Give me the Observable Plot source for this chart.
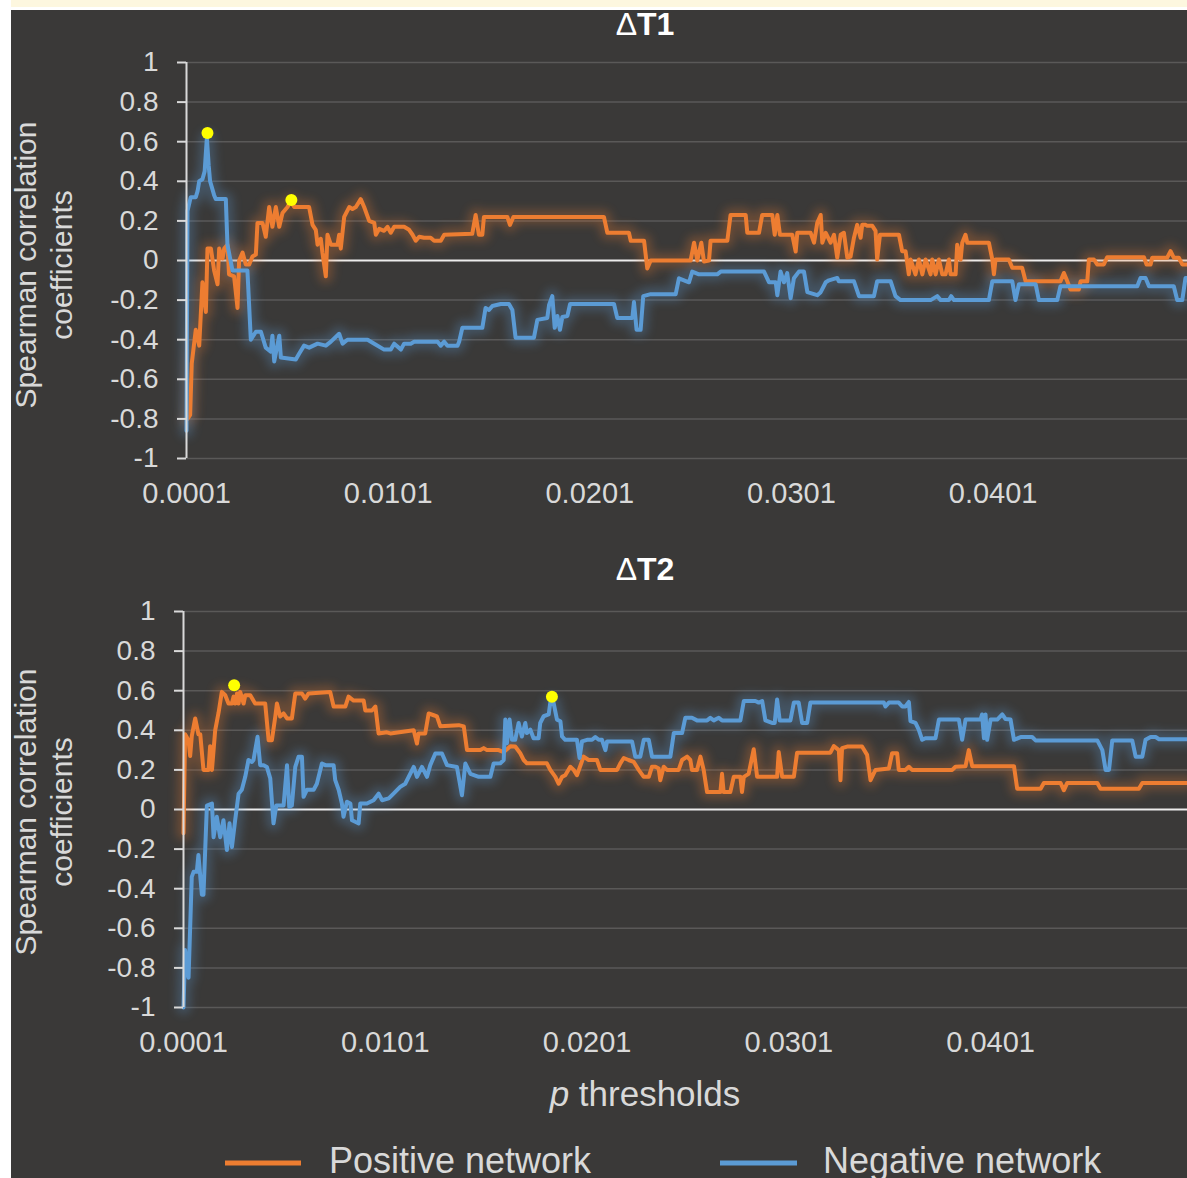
<!DOCTYPE html>
<html><head><meta charset="utf-8">
<script src="https://cdn.jsdelivr.net/npm/d3@7"></script>
<script src="https://cdn.jsdelivr.net/npm/@observablehq/plot@0.6"></script>
<style>
html,body{margin:0;padding:0;background:#fff;}
#page{position:relative;width:1187px;height:1178px;overflow:hidden;background:#fff;font-family:"Liberation Sans",Arial,sans-serif;}
#dark{position:absolute;left:11px;top:10px;width:1176px;height:1168px;background:#3a3938;}
.panel{position:absolute;left:0;}
#overlay{position:absolute;left:0;top:0;}
#strip{position:absolute;left:0;top:0;width:1187px;height:7px;background:#fdf7df;}
#wband{position:absolute;left:0;top:7px;width:1187px;height:3px;background:#fff;}
#lband{position:absolute;left:0;top:0;width:11px;height:1178px;background:#fff;}
</style></head>
<body>
<div id="page">
<div id="dark"></div>
<div id="p1" class="panel" style="top:40px"></div>
<div id="p2" class="panel" style="top:589px"></div>
<svg id="overlay" width="1187" height="1178" font-family="Liberation Sans, Arial, sans-serif">
  <text x="645" y="35" text-anchor="middle" fill="#ffffff" font-size="32"><tspan>Δ</tspan><tspan font-weight="bold">T1</tspan></text>
  <text x="645" y="580" text-anchor="middle" fill="#ffffff" font-size="32"><tspan>Δ</tspan><tspan font-weight="bold">T2</tspan></text>
  <text transform="translate(36,265) rotate(-90)" text-anchor="middle" fill="#d9d9d9" font-size="30">Spearman correlation</text>
  <text transform="translate(72,265) rotate(-90)" text-anchor="middle" fill="#d9d9d9" font-size="30">coefficients</text>
  <text transform="translate(36,812) rotate(-90)" text-anchor="middle" fill="#d9d9d9" font-size="30">Spearman correlation</text>
  <text transform="translate(72,812) rotate(-90)" text-anchor="middle" fill="#d9d9d9" font-size="30">coefficients</text>
  <text x="645" y="1106" text-anchor="middle" fill="#d9d9d9" font-size="35"><tspan font-style="italic">p</tspan> thresholds</text>
  <line x1="225" x2="301" y1="1163" y2="1163" stroke="#ED7D31" stroke-width="5"/>
  <text x="329" y="1173" fill="#d9d9d9" font-size="36">Positive network</text>
  <line x1="720" x2="797" y1="1163" y2="1163" stroke="#5B9BD5" stroke-width="5"/>
  <text x="823" y="1173" fill="#d9d9d9" font-size="36">Negative network</text>
</svg>
<div id="strip"></div><div id="wband"></div><div id="lband"></div>
</div>
<script>
// p thresholds are stored in units of 0.001 (×1000); r = Spearman correlation
const xTicks = [0.1, 10.1, 20.1, 30.1, 40.1];
const yTicks = [-1, -0.8, -0.6, -0.4, -0.2, 0, 0.2, 0.4, 0.6, 0.8, 1];
const seriesNames = ["Positive network", "Negative network"];
const seriesColors = ["#ED7D31", "#5B9BD5"];

const t1Positive = [[0.15,-0.80],[0.28,-0.78],[0.36,-0.52],[0.56,-0.35],[0.73,-0.43],[0.89,-0.11],[1.06,-0.26],[1.14,0.06],[1.31,0.06],[1.47,-0.05],[1.64,-0.12],[1.72,0.06],[1.89,0.01],[1.97,0.06],[2.13,0.08],[2.21,-0.07],[2.46,-0.08],[2.63,-0.24],[2.71,0.00],[2.88,0.04],[3.04,-0.02],[3.21,-0.02],[3.37,0.02],[3.54,0.03],[3.62,0.19],[3.87,0.19],[4.03,0.12],[4.20,0.27],[4.36,0.17],[4.53,0.27],[4.70,0.17],[4.86,0.24],[5.11,0.27],[5.27,0.30],[5.44,0.27],[6.18,0.27],[6.35,0.18],[6.51,0.155],[6.60,0.08],[6.76,0.11],[6.84,0.04],[7.01,-0.08],[7.09,0.13],[7.26,0.08],[7.59,0.08],[7.67,0.13],[7.75,0.06],[7.92,0.22],[8.17,0.27],[8.33,0.26],[8.50,0.27],[8.74,0.31],[8.91,0.27],[9.16,0.20],[9.41,0.19],[9.49,0.13],[9.66,0.16],[9.90,0.15],[10.07,0.17],[10.23,0.14],[10.40,0.17],[10.89,0.17],[11.14,0.155],[11.31,0.13],[11.47,0.10],[11.64,0.12],[11.88,0.115],[12.21,0.115],[12.38,0.10],[12.71,0.10],[12.88,0.13],[14.27,0.135],[14.44,0.23],[14.60,0.13],[14.77,0.13],[14.85,0.22],[16.01,0.22],[16.14,0.18],[16.31,0.22],[20.80,0.22],[20.97,0.14],[22.04,0.14],[22.13,0.10],[22.79,0.10],[22.95,-0.04],[23.12,0.00],[25.10,0.00],[25.27,0.09],[25.43,0.00],[25.63,0.09],[25.76,-0.005],[26.01,0.00],[26.09,0.10],[26.92,0.10],[27.08,0.23],[27.83,0.23],[27.91,0.14],[28.49,0.14],[28.65,0.23],[29.15,0.23],[29.27,0.13],[29.40,0.23],[29.53,0.13],[30.14,0.13],[30.31,0.045],[30.39,0.14],[31.05,0.14],[31.22,0.09],[31.38,0.19],[31.55,0.23],[31.63,0.09],[31.80,0.14],[32.04,0.09],[32.21,0.13],[32.37,0.014],[32.54,0.13],[32.70,0.14],[32.87,0.014],[33.03,0.02],[33.20,0.115],[33.36,0.18],[33.53,0.115],[33.61,0.18],[33.78,0.18],[33.86,0.175],[34.11,0.175],[34.27,0.15],[34.35,0.005],[34.49,0.13],[35.43,0.13],[35.59,0.047],[35.76,0.047],[35.92,-0.07],[36.01,0.005],[36.25,-0.07],[36.42,0.005],[36.59,-0.07],[36.75,0.005],[37.00,-0.07],[37.08,0.005],[37.25,-0.07],[37.41,0.005],[37.58,-0.07],[37.74,-0.07],[37.91,0.005],[37.99,-0.07],[38.24,-0.07],[38.32,0.08],[38.49,0.005],[38.57,0.09],[38.73,0.13],[38.82,0.09],[39.89,0.09],[40.06,0.005],[40.14,-0.07],[40.22,0.005],[40.88,0.005],[41.05,-0.037],[41.54,-0.037],[41.71,-0.105],[43.44,-0.105],[43.61,-0.063],[43.78,-0.105],[43.94,-0.147],[44.35,-0.147],[44.44,-0.105],[44.77,-0.105],[44.85,0.005],[45.10,0.005],[45.26,-0.02],[45.59,-0.02],[45.76,0.017],[47.58,0.017],[47.71,-0.02],[47.91,-0.02],[47.99,0.014],[48.73,0.014],[48.90,0.047],[49.06,0.014],[49.31,0.014],[49.48,-0.02],[49.74,-0.02]];

const t1Negative = [[0.10,-0.86],[0.15,0.25],[0.31,0.32],[0.56,0.32],[0.65,0.35],[0.73,0.40],[0.89,0.41],[1.00,0.45],[1.11,0.62],[1.20,0.48],[1.27,0.40],[1.47,0.33],[1.55,0.31],[2.05,0.31],[2.13,0.08],[2.38,-0.05],[3.12,-0.05],[3.29,-0.40],[3.54,-0.36],[3.79,-0.36],[4.03,-0.44],[4.28,-0.46],[4.36,-0.38],[4.45,-0.51],[4.70,-0.38],[4.78,-0.49],[5.52,-0.50],[5.69,-0.47],[5.93,-0.43],[6.18,-0.44],[6.60,-0.42],[7.01,-0.43],[7.26,-0.41],[7.67,-0.37],[7.84,-0.42],[8.08,-0.40],[9.08,-0.40],[9.41,-0.42],[9.90,-0.45],[10.23,-0.45],[10.40,-0.42],[10.73,-0.45],[10.89,-0.42],[11.22,-0.42],[11.39,-0.41],[12.55,-0.41],[12.71,-0.43],[12.88,-0.41],[13.04,-0.43],[13.54,-0.43],[13.62,-0.41],[13.78,-0.34],[14.77,-0.34],[14.93,-0.24],[15.10,-0.25],[15.27,-0.23],[15.68,-0.22],[16.09,-0.22],[16.26,-0.25],[16.42,-0.39],[17.33,-0.39],[17.50,-0.30],[17.99,-0.29],[18.08,-0.225],[18.24,-0.18],[18.36,-0.34],[18.49,-0.28],[18.62,-0.35],[18.74,-0.285],[18.99,-0.28],[19.12,-0.22],[21.30,-0.22],[21.46,-0.29],[22.21,-0.29],[22.29,-0.21],[22.42,-0.35],[22.62,-0.35],[22.75,-0.18],[23.12,-0.17],[24.36,-0.17],[24.52,-0.09],[25.02,-0.11],[25.18,-0.056],[25.51,-0.07],[26.42,-0.07],[26.59,-0.056],[28.74,-0.056],[28.99,-0.11],[29.32,-0.11],[29.40,-0.175],[29.56,-0.056],[29.73,-0.11],[29.89,-0.064],[30.06,-0.19],[30.22,-0.09],[30.47,-0.056],[30.72,-0.056],[30.89,-0.16],[31.38,-0.175],[31.55,-0.16],[31.80,-0.11],[31.96,-0.10],[32.37,-0.088],[32.45,-0.105],[33.20,-0.105],[33.45,-0.18],[34.19,-0.18],[34.35,-0.105],[35.02,-0.105],[35.26,-0.18],[35.51,-0.20],[37.00,-0.20],[37.33,-0.18],[37.50,-0.20],[37.91,-0.20],[38.02,-0.18],[38.16,-0.20],[39.89,-0.20],[40.06,-0.105],[41.05,-0.105],[41.21,-0.20],[41.38,-0.12],[42.21,-0.12],[42.37,-0.20],[43.28,-0.20],[43.44,-0.13],[47.25,-0.13],[47.41,-0.088],[47.66,-0.088],[47.83,-0.13],[49.06,-0.13],[49.23,-0.20],[49.48,-0.20],[49.64,-0.088],[49.74,-0.088]];

const t2Positive = [[0.10,-0.12],[0.18,0.38],[0.35,0.35],[0.43,0.27],[0.51,0.37],[0.68,0.46],[0.84,0.38],[0.93,0.38],[1.09,0.20],[1.34,0.20],[1.42,0.32],[1.51,0.20],[1.67,0.40],[1.84,0.49],[2.00,0.594],[2.17,0.577],[2.33,0.535],[2.50,0.535],[2.58,0.57],[2.66,0.535],[2.75,0.586],[2.83,0.535],[2.91,0.594],[3.08,0.535],[3.16,0.577],[3.41,0.577],[3.65,0.535],[4.15,0.535],[4.32,0.35],[4.48,0.35],[4.65,0.47],[4.73,0.535],[4.89,0.47],[5.06,0.485],[5.23,0.46],[5.47,0.46],[5.64,0.586],[5.97,0.586],[6.13,0.56],[6.30,0.586],[7.37,0.594],[7.54,0.52],[8.12,0.52],[8.28,0.57],[8.53,0.55],[9.03,0.55],[9.11,0.50],[9.44,0.50],[9.61,0.52],[9.77,0.384],[10.18,0.39],[10.35,0.384],[11.51,0.40],[11.67,0.333],[11.75,0.384],[12.08,0.384],[12.25,0.485],[12.50,0.476],[12.66,0.47],[12.83,0.42],[13.74,0.426],[13.99,0.42],[14.15,0.30],[14.81,0.30],[14.98,0.31],[15.14,0.30],[15.72,0.30],[15.97,0.29],[16.30,0.32],[16.54,0.318],[16.79,0.284],[16.96,0.25],[17.12,0.233],[18.11,0.233],[18.28,0.20],[18.53,0.165],[18.69,0.13],[18.86,0.165],[19.02,0.173],[19.27,0.216],[19.44,0.20],[19.60,0.173],[19.93,0.267],[20.18,0.25],[20.59,0.25],[20.76,0.20],[21.59,0.20],[21.75,0.233],[21.92,0.26],[22.16,0.25],[22.41,0.241],[22.66,0.20],[22.91,0.165],[23.16,0.165],[23.32,0.216],[23.49,0.216],[23.65,0.207],[23.73,0.148],[23.90,0.216],[24.06,0.20],[24.64,0.20],[24.81,0.25],[25.06,0.267],[25.22,0.25],[25.30,0.20],[25.55,0.20],[25.72,0.267],[25.88,0.20],[26.05,0.088],[26.71,0.088],[26.79,0.18],[26.87,0.088],[27.20,0.088],[27.37,0.165],[27.70,0.165],[27.78,0.088],[27.87,0.165],[28.11,0.18],[28.36,0.304],[28.53,0.165],[29.52,0.165],[29.60,0.29],[29.77,0.165],[30.35,0.165],[30.51,0.287],[32.16,0.287],[32.33,0.32],[32.58,0.30],[32.66,0.148],[32.74,0.31],[32.99,0.318],[33.73,0.318],[33.98,0.276],[34.15,0.148],[34.31,0.182],[34.40,0.20],[35.06,0.207],[35.22,0.284],[35.47,0.284],[35.55,0.20],[35.88,0.20],[36.05,0.216],[36.21,0.20],[38.20,0.20],[38.36,0.216],[38.86,0.219],[39.02,0.30],[39.19,0.219],[41.26,0.219],[41.42,0.105],[42.58,0.105],[42.74,0.134],[43.57,0.134],[43.73,0.097],[43.90,0.134],[45.39,0.134],[45.55,0.105],[47.45,0.105],[47.62,0.134],[49.86,0.134]];

const t2Negative = [[0.10,-1.00],[0.18,-0.71],[0.35,-0.85],[0.51,-0.34],[0.60,-0.315],[0.76,-0.315],[0.84,-0.23],[1.01,-0.43],[1.09,-0.43],[1.26,0.02],[1.51,0.03],[1.59,-0.14],[1.75,-0.037],[1.92,-0.14],[2.08,-0.054],[2.25,-0.205],[2.38,-0.07],[2.50,-0.19],[2.66,-0.054],[2.83,0.08],[2.99,0.10],[3.16,0.165],[3.32,0.25],[3.49,0.24],[3.57,0.25],[3.77,0.367],[3.90,0.224],[4.07,0.224],[4.23,0.215],[4.40,0.157],[4.56,-0.07],[4.70,0.02],[5.06,0.02],[5.23,0.224],[5.34,0.013],[5.47,0.02],[5.64,0.215],[5.80,0.266],[5.97,0.266],[6.05,0.064],[6.22,0.10],[6.55,0.10],[6.71,0.13],[6.96,0.232],[7.13,0.224],[7.54,0.224],[7.62,0.148],[7.79,0.10],[7.95,0.03],[8.03,-0.037],[8.20,0.039],[8.37,0.03],[8.45,-0.054],[8.61,-0.062],[8.78,-0.07],[8.86,0.03],[9.19,0.03],[9.52,0.047],[9.77,0.08],[9.94,0.047],[10.27,0.056],[10.51,0.08],[10.84,0.114],[11.09,0.13],[11.51,0.215],[11.67,0.165],[11.92,0.215],[12.17,0.165],[12.33,0.224],[12.58,0.283],[12.91,0.283],[13.16,0.224],[13.65,0.215],[13.90,0.072],[14.07,0.232],[14.32,0.18],[14.73,0.165],[15.31,0.165],[15.47,0.232],[15.80,0.233],[15.97,0.25],[16.05,0.454],[16.13,0.335],[16.26,0.454],[16.38,0.352],[16.54,0.352],[16.71,0.437],[16.87,0.369],[17.04,0.437],[17.12,0.386],[17.29,0.403],[17.45,0.36],[17.70,0.36],[17.78,0.437],[17.95,0.471],[18.20,0.48],[18.28,0.54],[18.44,0.54],[18.61,0.454],[18.78,0.446],[18.86,0.369],[19.02,0.352],[19.60,0.352],[19.73,0.26],[19.85,0.344],[20.10,0.352],[20.35,0.352],[20.51,0.366],[20.68,0.352],[20.84,0.352],[21.01,0.30],[21.09,0.344],[22.33,0.344],[22.49,0.267],[22.74,0.267],[22.91,0.352],[23.16,0.352],[23.32,0.267],[24.23,0.267],[24.40,0.386],[24.81,0.386],[24.97,0.463],[25.30,0.463],[25.55,0.45],[26.05,0.45],[26.21,0.463],[26.38,0.45],[26.63,0.463],[26.79,0.45],[27.70,0.45],[27.87,0.548],[28.44,0.548],[28.61,0.54],[28.78,0.548],[28.94,0.45],[29.27,0.437],[29.40,0.437],[29.52,0.556],[29.65,0.45],[30.18,0.45],[30.35,0.54],[30.59,0.54],[30.76,0.437],[31.01,0.437],[31.17,0.54],[34.81,0.54],[34.89,0.52],[35.06,0.54],[35.55,0.54],[35.72,0.52],[35.88,0.52],[36.05,0.543],[36.13,0.446],[36.38,0.437],[36.54,0.403],[36.71,0.352],[36.87,0.36],[37.37,0.36],[37.54,0.454],[38.53,0.454],[38.69,0.352],[38.86,0.454],[39.60,0.454],[39.68,0.48],[39.77,0.36],[39.85,0.48],[39.93,0.352],[40.10,0.454],[40.43,0.454],[40.68,0.48],[40.84,0.457],[41.09,0.454],[41.26,0.352],[41.59,0.366],[42.16,0.366],[42.33,0.349],[45.39,0.349],[45.64,0.30],[45.80,0.20],[45.97,0.20],[46.13,0.349],[47.12,0.349],[47.29,0.267],[47.62,0.267],[47.78,0.352],[48.03,0.366],[48.28,0.366],[48.45,0.355],[49.86,0.355]];

const t1Peaks = [[1.14, 0.644], [5.30, 0.306]];
const t2Peaks = [[2.61, 0.628], [18.36, 0.57]];

const toRows = arr => arr.map(([p, r]) => ({p, r}));
const yFmt = d => String(Math.round(d * 10) / 10);
const xFmt = d => (d / 1000).toFixed(4);

function panel(id, pos, neg, peaks, marginLeft, xMax) {
  const posRows = toRows(pos), negRows = toRows(neg), peakRows = toRows(peaks);
  const svg = Plot.plot({
    width: 1187, height: 488,
    marginLeft, marginRight: 0, marginTop: 22, marginBottom: 70,
    style: {background: "transparent", color: "#d9d9d9", fontFamily: "Liberation Sans, Arial, sans-serif", overflow: "visible"},
    x: {domain: [0.1, xMax], label: null},
    y: {domain: [-1, 1], label: null},
    marks: [
      Plot.ruleY(yTicks.filter(d => d !== 0), {stroke: "#5a5958", strokeWidth: 1.5}),
      Plot.ruleY([0], {stroke: "#ececec", strokeWidth: 2}),
      Plot.line(posRows, {x: "p", y: "r", stroke: seriesColors[0], strokeWidth: 14, strokeOpacity: 0.5, strokeLinejoin: "round"}),
      Plot.line(negRows, {x: "p", y: "r", stroke: seriesColors[1], strokeWidth: 14, strokeOpacity: 0.5, strokeLinejoin: "round"}),
      Plot.line(posRows, {x: "p", y: "r", stroke: seriesColors[0], strokeWidth: 4, strokeLinejoin: "round"}),
      Plot.line(negRows, {x: "p", y: "r", stroke: seriesColors[1], strokeWidth: 4, strokeLinejoin: "round"}),
      Plot.ruleX([0.1], {y1: -1, y2: 1, stroke: "#d9d9d9", strokeWidth: 2}),
      Plot.dot(peakRows, {x: "p", y: "r", r: 6, fill: "#ffff00", stroke: null}),
      Plot.axisY({ticks: yTicks, tickFormat: yFmt, tickSize: 9, tickPadding: 19, fontSize: 28, label: null, stroke: "#d9d9d9", strokeWidth: 2}),
      Plot.axisX({ticks: xTicks, tickFormat: xFmt, tickSize: 0, tickPadding: 24, fontSize: 29, label: null})
    ]
  });
  const s = d3.select(svg);
  const f = s.insert("defs", ":first-child").append("filter").attr("id", "glow-" + id)
    .attr("filterUnits", "userSpaceOnUse").attr("x", 0).attr("y", 0).attr("width", 1187).attr("height", 488);
  f.append("feGaussianBlur").attr("stdDeviation", 5);
  // the first two line groups are the soft halo layers under the series lines
  s.selectAll('g[aria-label="line"]').filter((d, i) => i < 2)
    .attr("filter", `url(#glow-${id})`).attr("opacity", 0.55);
  document.getElementById(id).appendChild(svg);
}

panel("p1", t1Positive, t1Negative, t1Peaks, 186, 49.74);
panel("p2", t2Positive, t2Negative, t2Peaks, 183, 49.86);
</script>
</body></html>
